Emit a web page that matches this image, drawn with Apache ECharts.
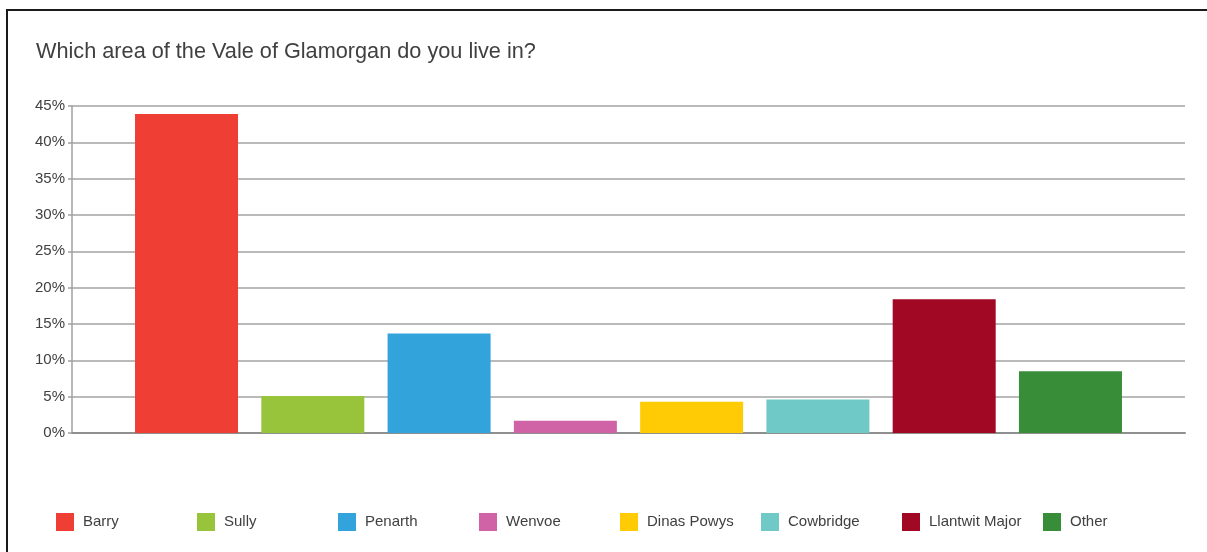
<!DOCTYPE html>
<html>
<head>
<meta charset="utf-8">
<script src="https://cdn.jsdelivr.net/npm/echarts@6/dist/echarts.min.js"></script>
<style>
  html, body { margin: 0; padding: 0; background: #ffffff; }
  #chart { width: 1207px; height: 552px; }
</style>
</head>
<body>
<div id="chart"></div>
<script>
const titleText = 'Which area of the Vale of Glamorgan do you live in?';
const areaNames = ['Barry', 'Sully', 'Penarth', 'Wenvoe', 'Dinas Powys', 'Cowbridge', 'Llantwit Major', 'Other'];
const areaValues = [43.9, 5.1, 13.7, 1.7, 4.3, 4.6, 18.4, 8.5];
const areaColors = ['#EF3E33', '#97C43B', '#33A3DC', '#D063A5', '#FFCB05', '#6FC9C6', '#A10824', '#388D38'];
const yTicks = [0, 5, 10, 15, 20, 25, 30, 35, 40, 45];

const textColor = '#404040';
const font = 'Liberation Sans, Arial, sans-serif';

const chart = echarts.init(document.getElementById('chart'), null, { renderer: 'canvas' });

const series = areaNames.map((name, i) => ({
  name: name,
  type: 'bar',
  data: [areaValues[i]],
  barWidth: 103,
  barGap: '22.6%',
  itemStyle: { color: areaColors[i] },
  emphasis: { disabled: true }
}));

const legends = areaNames.map((name, i) => ({
  data: [name],
  left: 56 + i * 141,
  top: 513,
  padding: 0,
  itemWidth: 18,
  itemHeight: 18,
  icon: 'rect',
  selectedMode: false,
  textStyle: { color: textColor, fontSize: 15, fontFamily: font, padding: [3, 0, 0, 4] }
}));

chart.setOption({
  animation: false,
  backgroundColor: '#ffffff',
  title: {
    text: titleText,
    left: 36,
    top: 41,
    padding: 0,
    textStyle: { color: textColor, fontSize: 21.7, fontWeight: 'normal', fontFamily: font }
  },
  legend: legends,
  grid: { left: 72, right: 22, top: 106, bottom: 119, containLabel: false },
  xAxis: {
    type: 'category',
    data: [''],
    axisLine: { show: true, lineStyle: { color: '#8f8f8f', width: 2 } },
    axisTick: { show: false },
    axisLabel: { show: false },
    splitLine: { show: false }
  },
  yAxis: {
    type: 'value',
    min: yTicks[0],
    max: yTicks[yTicks.length - 1],
    interval: 5,
    axisLine: { show: true, lineStyle: { color: '#a0a0a0', width: 1.5 } },
    axisTick: { show: true, length: 4, lineStyle: { color: '#a0a0a0', width: 1.5 } },
    axisLabel: {
      formatter: '{value}%',
      color: textColor,
      fontSize: 15,
      fontFamily: font,
      margin: 7
    },
    splitLine: { show: true, lineStyle: { color: '#a3a3a3', width: 1.5 } }
  },
  graphic: [{
    type: 'rect',
    silent: true,
    z: 100,
    shape: { x: 7, y: 10, width: 1220, height: 580 },
    style: { fill: 'none', stroke: '#1a1a1a', lineWidth: 2 }
  }],
  series: series
});
</script>
</body>
</html>
